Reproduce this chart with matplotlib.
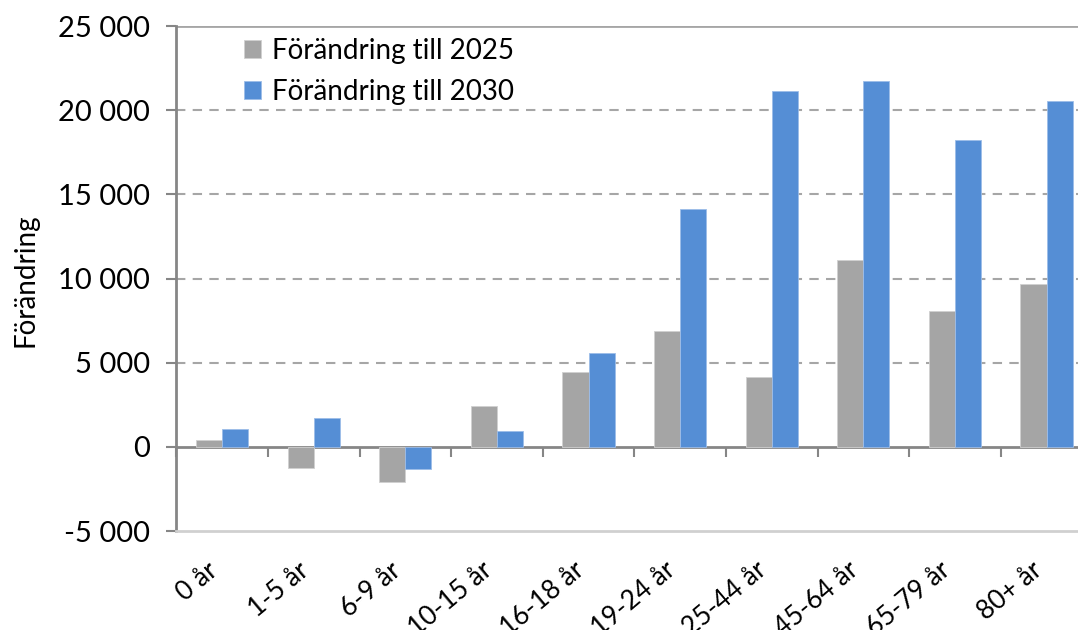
import matplotlib
matplotlib.use("Agg")
import matplotlib.pyplot as plt
import numpy as np

plt.rcParams['font.family'] = ['Lato', 'DejaVu Sans']

# age groups and change in population
categories = ['0 år', '1-5 år', '6-9 år', '10-15 år', '16-18 år',
              '19-24 år', '25-44 år', '45-64 år', '65-79 år', '80+ år']
change_2025 = [430, -1240, -2090, 2400, 4440, 6900, 4170, 11130, 8050, 9690]
change_2030 = [1080, 1730, -1340, 920, 5590, 14120, 21130, 21760, 18200, 20560]
yticks = [-5000, 0, 5000, 10000, 15000, 20000, 25000]
ytick_labels = ['-5 000', '0', '5 000', '10 000', '15 000', '20 000', '25 000']

gray = '#A5A5A5'
blue = '#558ED5'
axis_col = '#868686'
grid_col = '#A6A6A6'

fig = plt.figure(figsize=(10.78, 6.30), dpi=100)
ax = fig.add_axes([0.1636, 0.1571, 0.8497, 0.8016])

x = np.arange(len(categories))
w = 0.285
ax.bar(x - w / 2, change_2025, w, color=gray, edgecolor='#D0D0D0', linewidth=0.6,
       label='Förändring till 2025', zorder=3)
ax.bar(x + w / 2, change_2030, w, color=blue, edgecolor='#9DBDE8', linewidth=0.6,
       label='Förändring till 2030', zorder=3)

ax.set_xlim(-0.5, len(categories) - 0.5)
ax.set_ylim(-5000, 25000)

# gridlines
for v in yticks[2:-1]:
    ax.axhline(v, color=grid_col, lw=1.5, dashes=(4.5, 3.5), zorder=1)
ax.axhline(25000, color=grid_col, lw=2, zorder=1)

for s in ['top', 'right']:
    ax.spines[s].set_visible(False)
ax.spines['bottom'].set_color('#D0D0D0')
ax.spines['bottom'].set_linewidth(2)
ax.spines['left'].set_color(axis_col)
ax.spines['left'].set_linewidth(2)

ax.set_yticks(yticks)
ax.set_yticklabels(ytick_labels, fontsize=21)
ax.tick_params(axis='y', length=7, width=1.5, color=axis_col, pad=12)

# category labels at the bottom
ax.set_xticks(x)
ax.set_xticklabels(categories, fontsize=19, rotation=40, ha='right', va='top',
                   rotation_mode='default')
ax.tick_params(axis='x', length=0, pad=19)

# zero axis with ticks between categories
zero_frac = (0 - (-5000)) / 30000
sec = ax.secondary_xaxis(zero_frac)
sec.set_xticks(np.arange(len(categories) + 1) - 0.5)
sec.set_xticklabels([])
sec.spines['bottom'].set_color(axis_col)
sec.spines['bottom'].set_linewidth(2)
sec.tick_params(axis='x', length=7, width=1.5, color=axis_col, direction='out')

ax.set_ylabel('Förändring', fontsize=20)
ax.yaxis.set_label_coords(-0.151, 0.497)

ax.legend(loc='upper left', bbox_to_anchor=(0.213, 0.962), bbox_transform=fig.transFigure,
          frameon=False, fontsize=20, handlelength=0.62, handleheight=0.62,
          handletextpad=0.4, labelspacing=0.55, borderpad=0)

fig.savefig('out.png', dpi=100)
